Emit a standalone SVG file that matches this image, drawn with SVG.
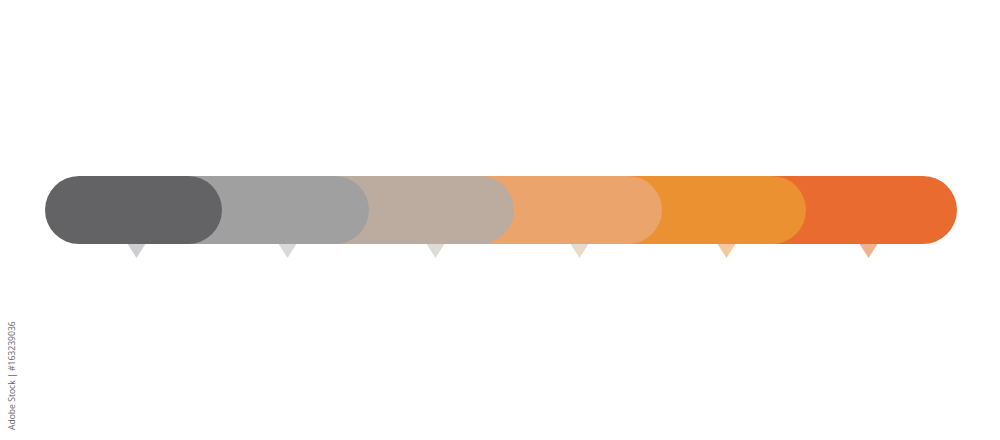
<svg xmlns="http://www.w3.org/2000/svg" width="1000" height="440" viewBox="0 0 1000 440">
  <defs>
    <style>
      .seg { stroke: none; }
      .ptr { stroke: none; }
      .credit { font-family: "Open Sans", "Liberation Sans", sans-serif; font-size: 8.6px; fill: #666666; }
    </style>
  </defs>
  <rect x="0" y="0" width="1000" height="440" fill="#ffffff"/>
  <g id="pointers">
    <polygon class="ptr" points="125,240 148,240 136.5,258" fill="#cfcfcf"/>
    <polygon class="ptr" points="276,240 299,240 287.5,258" fill="#d9d9d9"/>
    <polygon class="ptr" points="424,240 447,240 435.5,258" fill="#dcdbd5"/>
    <polygon class="ptr" points="568,240 591,240 579.5,258" fill="#e9d9c9"/>
    <polygon class="ptr" points="715,240 738,240 726.5,258" fill="#f5c99c"/>
    <polygon class="ptr" points="857,240 880,240 868.5,258" fill="#f2b08c"/>
  </g>
  <g id="segment-6"><rect class="seg" x="706" y="176" width="251" height="68" rx="34" fill="#e96b30"/></g>
  <g id="segment-5"><rect class="seg" x="562" y="176" width="244" height="68" rx="34" fill="#ec9131"/></g>
  <g id="segment-4"><rect class="seg" x="414" y="176" width="248" height="68" rx="34" fill="#eba46c"/></g>
  <g id="segment-3"><rect class="seg" x="269" y="176" width="245" height="68" rx="34" fill="#bcaca0"/></g>
  <g id="segment-2"><rect class="seg" x="122" y="176" width="247" height="68" rx="34" fill="#a0a0a0"/></g>
  <g id="segment-1"><rect class="seg" x="45" y="176" width="177" height="68" rx="34" fill="#636366"/></g>
  <text class="credit" transform="translate(15,430) rotate(-90)">Adobe Stock | #163239036</text>
</svg>
